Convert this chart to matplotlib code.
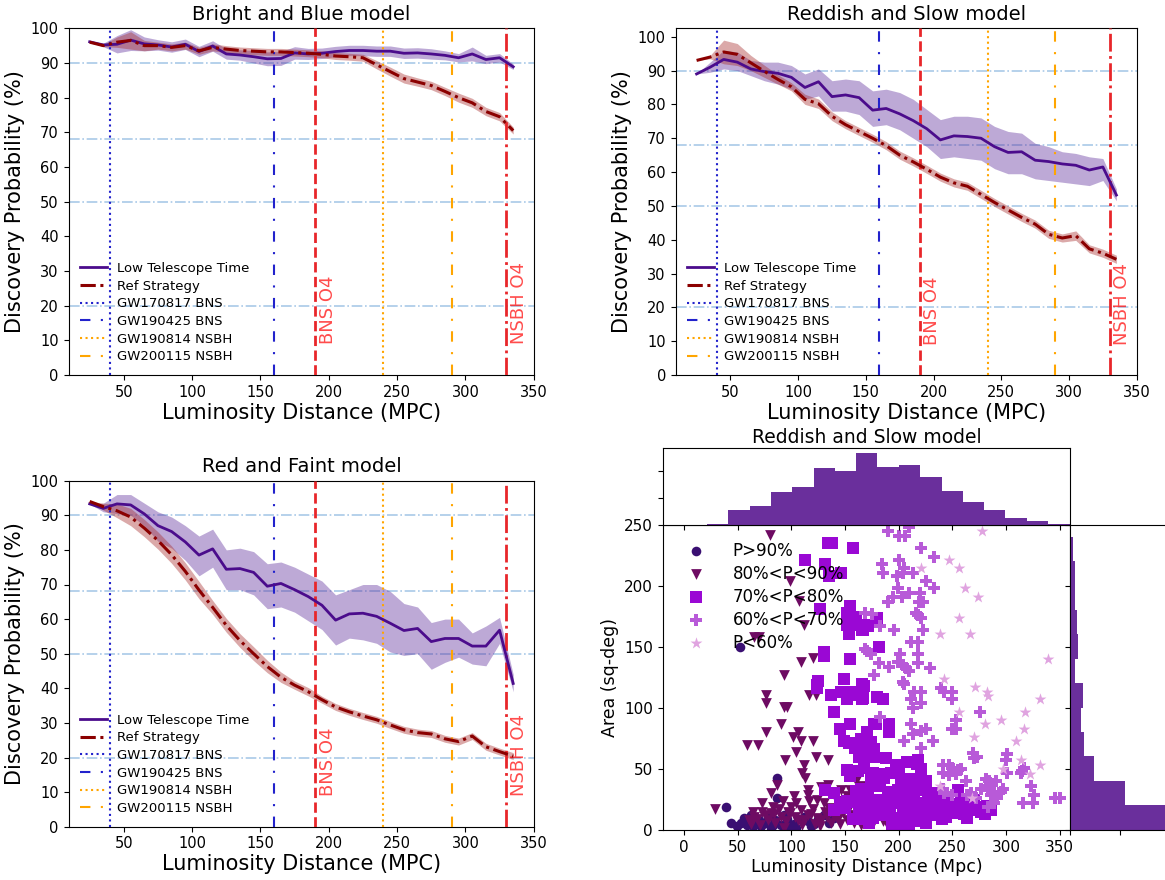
import matplotlib
matplotlib.use("Agg")
import matplotlib.pyplot as plt

# ---------------------------------------------------------------- data
dist = [25, 35, 45, 55, 65, 75, 85, 95, 105, 115, 125, 135, 145, 155, 165, 175,
        185, 195, 205, 215, 225, 235, 245, 255, 265, 275, 285, 295, 305, 315, 325, 335]

# Bright and Blue
bb_low = [96.1, 95.2, 95.4, 96.6, 95.5, 95.2, 94.6, 95.4, 93.3, 94.9, 92.6, 92.3, 91.8, 91.2, 91.3, 92.9,
          92.6, 92.8, 93.3, 93.6, 93.6, 93.4, 93.4, 92.8, 92.9, 92.6, 92.2, 91.5, 92.6, 91.0, 91.5, 88.9]
bb_low_lo = [96.1, 94.7, 92.9, 93.6, 93.5, 93.7, 93.1, 93.9, 91.8, 93.4, 91.1, 90.8, 90.0, 89.2, 89.3, 91.1,
             91.0, 91.3, 91.8, 92.1, 92.1, 91.9, 91.9, 91.3, 91.4, 91.1, 90.9, 90.3, 90.6, 89.8, 90.3, 88.1]
bb_low_hi = [96.1, 95.7, 97.9, 99.6, 97.5, 96.7, 96.1, 96.9, 94.8, 96.4, 94.1, 93.8, 93.6, 93.2, 93.3, 94.7,
             94.2, 94.3, 94.8, 95.1, 95.1, 94.9, 94.9, 94.3, 94.4, 94.1, 93.5, 92.7, 94.6, 92.2, 92.7, 89.7]
bb_ref = [96.0, 95.0, 96.0, 96.5, 95.0, 95.0, 94.5, 95.0, 93.5, 94.5, 94.0, 93.6, 93.4, 93.2, 93.2, 93.0,
          92.8, 92.5, 92.0, 91.8, 91.5, 89.5, 87.5, 85.5, 84.5, 83.5, 81.8, 80.0, 78.5, 76.0, 74.5, 70.5]
bb_ref_lo = [96.0, 94.7, 94.5, 94.0, 93.5, 94.0, 93.5, 94.0, 92.5, 93.5, 93.0, 92.6, 92.4, 92.2, 92.2, 92.0,
             91.8, 91.5, 91.0, 90.8, 90.5, 88.3, 86.2, 84.2, 83.3, 82.3, 80.6, 78.7, 77.2, 74.8, 73.3, 69.5]
bb_ref_hi = [96.0, 95.3, 97.5, 99.0, 96.5, 96.0, 95.5, 96.0, 94.5, 95.5, 95.0, 94.6, 94.4, 94.2, 94.2, 94.0,
             93.8, 93.5, 93.0, 92.8, 92.5, 90.7, 88.8, 86.8, 85.7, 84.7, 83.0, 81.3, 79.8, 77.2, 75.7, 71.5]

# Reddish and Slow
rs_low = [89.0, 91.0, 93.3, 92.5, 90.5, 89.7, 89.2, 88.0, 85.0, 86.7, 82.3, 82.8, 82.0, 78.3, 78.8, 77.2,
          75.2, 72.8, 69.5, 70.7, 70.5, 70.0, 67.5, 65.8, 66.0, 63.5, 63.1, 62.4, 62.0, 60.6, 61.5, 53.2]
rs_low_lo = [89.0, 89.5, 90.5, 90.0, 88.5, 87.0, 86.0, 84.5, 81.5, 82.5, 78.0, 78.0, 77.0, 73.5, 74.0, 72.5,
             70.0, 67.5, 64.0, 64.5, 64.0, 63.5, 61.0, 59.5, 59.5, 58.0, 57.5, 57.0, 56.5, 56.0, 57.5, 51.5]
rs_low_hi = [89.0, 92.5, 96.0, 95.5, 93.0, 92.5, 92.5, 91.5, 89.0, 90.5, 87.0, 87.5, 87.0, 84.0, 84.5, 83.5,
             81.5, 78.5, 75.5, 76.5, 76.5, 76.0, 73.5, 72.0, 71.5, 68.5, 67.5, 66.0, 65.5, 64.5, 64.0, 55.0]
rs_ref = [93.0, 94.0, 95.5, 94.8, 92.3, 89.8, 87.4, 85.2, 81.5, 80.2, 76.5, 74.0, 72.0, 70.0, 67.8, 65.0,
          63.0, 60.8, 58.5, 56.8, 55.8, 53.4, 51.0, 48.8, 46.6, 44.6, 41.6, 40.5, 41.2, 37.3, 36.0, 34.2]
rs_ref_lo = [93.0, 93.5, 92.0, 91.5, 90.0, 88.0, 86.0, 84.0, 80.0, 78.8, 75.2, 72.8, 70.8, 68.8, 66.6, 63.8,
             61.8, 59.6, 57.3, 55.6, 54.6, 52.2, 49.8, 47.6, 45.4, 43.4, 40.4, 39.3, 39.8, 36.1, 34.8, 33.0]
rs_ref_hi = [93.0, 94.5, 99.0, 98.0, 94.5, 91.6, 88.8, 86.4, 83.0, 81.6, 77.8, 75.2, 73.2, 71.2, 69.0, 66.2,
             64.2, 62.0, 59.7, 58.0, 57.0, 54.6, 52.2, 50.0, 47.8, 45.8, 42.8, 41.7, 42.6, 38.5, 37.2, 35.4]

# Red and Faint
rf_low = [93.3, 92.0, 93.3, 93.0, 90.4, 87.0, 85.3, 82.3, 78.5, 80.3, 74.4, 74.6, 73.5, 69.5, 70.3, 68.5,
          66.5, 64.0, 59.7, 61.5, 61.7, 60.8, 58.8, 56.7, 57.3, 53.5, 54.4, 54.4, 52.2, 52.2, 56.8, 41.4]
rf_low_lo = [93.3, 91.0, 90.5, 90.0, 87.0, 82.5, 80.5, 77.0, 72.5, 75.0, 68.5, 68.5, 67.0, 63.0, 63.5, 62.0,
             59.5, 57.0, 52.5, 54.5, 54.0, 53.0, 50.5, 49.5, 50.0, 45.5, 47.5, 49.0, 47.0, 46.5, 53.0, 39.0]
rf_low_hi = [93.3, 93.5, 96.0, 96.0, 93.5, 91.0, 89.5, 87.0, 84.0, 86.0, 80.0, 80.5, 79.5, 76.0, 76.5, 75.0,
             73.0, 71.0, 67.0, 68.5, 70.0, 70.0, 68.0, 64.5, 63.5, 59.0, 60.0, 60.0, 56.0, 58.0, 60.5, 44.0]
rf_ref = [94.0, 92.5, 91.3, 89.5, 86.3, 82.7, 78.6, 73.8, 68.4, 63.4, 58.2, 53.8, 50.0, 46.3, 43.2, 40.9,
          39.0, 36.7, 34.6, 33.2, 32.0, 30.9, 29.4, 28.0, 27.2, 26.8, 25.4, 24.6, 26.2, 23.1, 21.7, 20.4]
rf_ref_lo = [94.0, 91.5, 89.3, 87.0, 83.8, 80.2, 76.1, 71.3, 65.9, 61.4, 56.2, 51.8, 48.0, 44.5, 41.7, 39.7,
             37.8, 35.7, 33.6, 32.2, 31.0, 29.9, 28.4, 27.0, 26.2, 25.8, 24.4, 23.6, 25.2, 22.1, 20.7, 19.4]
rf_ref_hi = [94.0, 93.5, 93.3, 92.0, 88.8, 85.2, 81.1, 76.3, 70.9, 65.4, 60.2, 55.8, 52.0, 48.1, 44.7, 42.1,
             40.2, 37.7, 35.6, 34.2, 33.0, 31.9, 30.4, 29.0, 28.2, 27.8, 26.4, 25.6, 27.2, 24.1, 22.7, 21.4]

hlines = [90, 68, 50, 20]
gw_events = [("GW170817 BNS", 40), ("GW190425 BNS", 160),
             ("GW190814 NSBH", 240), ("GW200115 NSBH", 290)]
o4_lines = [("BNS O4", 190), ("NSBH O4", 330)]

# scatter: (distance, area) per discovery-probability class
p90 = [[52, 150], [87, 43], [87, 26], [39, 19], [44, 6], [49, 3], [56, 10], [62, 12], [59, 4], [68, 5],
       [72, 3], [78, 11], [62, 7], [85, 8], [93, 12], [90, 4], [102, 5], [112, 11], [104, 2], [121, 5],
       [130, 12], [96, 9], [75, 6], [81, 2], [66, 10], [115, 7], [108, 9], [125, 9], [135, 6], [140, 10],
       [53, 6], [58, 8], [64, 3], [70, 8], [83, 4], [98, 3], [118, 3]]
p80 = [[80, 242], [99, 204], [107, 188], [112, 168], [65, 158], [70, 158], [109, 138], [120, 141], [93, 127],
       [76, 111], [76, 104], [116, 111], [123, 111], [93, 101], [96, 101], [90, 87], [76, 80], [59, 70],
       [69, 70], [106, 80], [101, 76], [109, 73], [120, 73], [104, 64], [94, 57], [112, 53], [110, 47],
       [113, 43], [123, 60], [134, 57], [87, 37], [81, 30], [73, 22], [83, 19], [29, 17], [115, 33],
       [115, 29], [134, 37], [146, 33], [155, 33], [165, 36], [104, 22], [124, 25], [140, 29],
       [65, 11], [81, 14], [90, 11], [99, 14], [106, 8], [115, 12], [124, 10], [131, 15], [140, 11],
       [148, 14], [152, 8], [162, 15], [171, 11], [177, 14], [165, 4], [127, 3], [93, 2], [71, 4], [85, 6],
       [110, 4], [145, 5], [158, 12], [185, 7], [190, 3], [135, 18], [120, 17], [100, 19], [155, 20],
       [170, 20], [180, 24], [60, 8], [75, 12], [177, 7],
       [62, 5], [68, 9], [73, 15], [78, 8], [84, 13], [88, 17], [95, 7], [97, 15], [103, 11], [109, 16],
       [112, 8], [118, 13], [122, 5], [128, 8], [133, 11], [137, 6], [143, 9], [150, 17], [158, 6],
       [161, 19], [168, 15], [173, 25], [182, 17], [130, 22], [116, 24], [146, 24], [92, 24], [64, 15],
       [102, 28], [128, 35], [152, 28], [160, 40]]
p70 = [[134, 235], [138, 235], [157, 231], [113, 221], [131, 218], [146, 211], [135, 208], [155, 184],
       [127, 181], [152, 178], [160, 175], [152, 168], [158, 168], [169, 168], [154, 161], [166, 164],
       [130, 146], [130, 143], [155, 140], [125, 122], [149, 124], [166, 120], [180, 174], [171, 167],
       [167, 164], [182, 150], [124, 119], [124, 116], [137, 111], [146, 113], [155, 113], [162, 111],
       [168, 118], [152, 107], [166, 107], [180, 109], [167, 108], [185, 107], [140, 97], [155, 87],
       [177, 87], [145, 83], [170, 80], [191, 87], [191, 80], [179, 87], [149, 73], [154, 71], [159, 67],
       [165, 66], [171, 67], [177, 66], [174, 72], [165, 75], [163, 60], [168, 56], [152, 49], [155, 44],
       [162, 48], [174, 44], [166, 60], [168, 51], [177, 60], [188, 59], [197, 53], [200, 52], [218, 57],
       [221, 50], [176, 47], [183, 46], [186, 44], [210, 42], [216, 41], [225, 40], [208, 33], [221, 33],
       [255, 33], [171, 33], [182, 36], [193, 31], [199, 29], [131, 33], [140, 30], [165, 34],
       [227, 26], [238, 26], [246, 25], [258, 23], [267, 19], [275, 19], [286, 16], [264, 10], [170, 20],
       [180, 23], [192, 18], [203, 22], [212, 17], [222, 15], [232, 19], [243, 17], [252, 14], [261, 13],
       [200, 10], [215, 7], [225, 12], [240, 9], [190, 12], [178, 15], [163, 17], [157, 9], [172, 6],
       [185, 24], [196, 27], [209, 25], [218, 22], [230, 30], [248, 21], [200, 4], [160, 26], [152, 24],
       [235, 12], [280, 13], [270, 25],
       [183, 37], [190, 30], [199, 33], [205, 25], [183, 25], [177, 19], [189, 16], [199, 22], [208, 25],
       [214, 25], [224, 22], [233, 26], [236, 19], [246, 23], [252, 17], [258, 21], [270, 16], [277, 15],
       [196, 10], [208, 11], [221, 12], [236, 12], [252, 15], [264, 10], [160, 32], [171, 28], [174, 39],
       [186, 43], [193, 47], [208, 56], [217, 54], [221, 47], [198, 49], [202, 40], [214, 31], [227, 29],
       [240, 28], [262, 18], [282, 20], [228, 16], [244, 11], [204, 15], [215, 18], [186, 12], [176, 10],
       [168, 12], [161, 9], [194, 5], [210, 5], [225, 6], [150, 18], [158, 23], [166, 25], [145, 22],
       [140, 16]]
p60 = [[170, 147], [175, 177], [190, 245], [200, 241], [206, 241], [210, 248], [221, 231], [233, 224],
       [184, 218], [185, 211], [200, 221], [205, 215], [204, 211], [198, 208], [213, 211], [225, 204],
       [233, 198], [199, 198], [195, 191], [203, 191], [210, 194], [220, 194], [190, 187], [219, 187],
       [223, 187], [169, 178], [183, 167], [196, 164], [216, 178], [218, 176], [221, 174], [223, 164],
       [211, 154], [218, 154], [169, 148], [174, 144], [201, 144], [218, 144], [182, 137], [191, 134],
       [199, 138], [204, 135], [207, 133], [210, 130], [218, 137], [229, 133], [177, 127], [204, 121],
       [205, 120], [214, 113], [221, 113], [211, 107], [221, 104], [213, 100], [239, 116], [242, 113],
       [250, 113], [250, 107], [183, 93], [211, 87], [213, 79], [221, 81], [225, 83], [205, 73], [232, 73],
       [221, 67], [253, 90], [253, 83], [250, 83], [276, 97], [269, 63], [270, 59], [273, 60], [241, 53],
       [247, 53], [250, 51], [255, 49], [258, 50], [241, 47], [247, 45], [253, 46], [263, 40], [267, 30],
       [272, 26], [281, 42], [284, 40], [287, 38], [291, 40], [281, 36], [277, 34], [283, 33], [289, 31],
       [286, 29], [295, 31], [292, 26], [289, 22], [301, 62], [300, 57], [301, 47], [314, 47], [317, 51],
       [315, 48], [297, 34], [323, 36], [326, 29], [325, 22], [316, 22], [346, 26], [350, 26], [283, 19],
       [241, 34], [242, 30], [250, 29], [264, 29]]
p_lt60 = [[278, 245], [247, 221], [256, 215], [221, 215], [262, 198], [274, 191], [256, 174], [238, 161],
          [266, 161], [339, 140], [242, 124], [271, 117], [282, 113], [283, 110], [256, 97], [280, 87],
          [295, 90], [317, 83], [318, 97], [332, 107], [270, 76], [309, 73], [314, 57], [332, 53],
          [297, 50], [322, 46], [238, 36], [268, 26]]

# marginal histograms (counts per bin)
dist_edges = [21.2, 41.1, 61.0, 80.8, 100.7, 120.6, 140.5, 160.4, 180.2, 200.1, 220.0, 239.9,
              259.8, 279.6, 299.5, 319.4, 339.3, 359.2]
dist_counts = [1, 11, 14, 24, 28, 42, 40, 53, 43, 44, 35, 25, 17, 11, 5, 3, 1]
area_edges = [0.4, 20.4, 40.4, 60.4, 80.4, 100.4, 120.4, 140.4, 160.4, 180.4, 200.4, 220.4, 240.4]
area_counts = [170, 55, 24, 14, 11, 13, 5, 8, 7, 5, 5, 3]

# ---------------------------------------------------------------- style
LOW_C = "#4b0c8c"
LOW_FILL = "#5b2a9a"
REF_C = "#8b0000"
REF_FILL = "#a52a2a"
REF_LS = (0, (5, 1.5, 1, 1.5))
HL_C = "#a9c9e8"
GW_STYLES = [("#2222cc", ":"), ("#2222cc", (0, (5, 5, 1, 5))),
             ("orange", ":"), ("orange", (0, (5, 5, 1, 5)))]
O4_STYLES = ["--", "-."]
O4_C = "#e8262a"

W, H = 1165, 880


def rect(l, t, r, b):
    return [l / W, 1 - b / H, (r - l) / W, (b - t) / H]


def prob_panel(ax, title, low, low_lo, low_hi, ref, ref_lo, ref_hi, ytop):
    for y in hlines:
        ax.axhline(y, color=HL_C, ls="-.", lw=1.2, zorder=1)
    ax.fill_between(dist, low_lo, low_hi, color=LOW_FILL, alpha=0.4, lw=0, zorder=2)
    ax.fill_between(dist, ref_lo, ref_hi, color=REF_FILL, alpha=0.4, lw=0, zorder=2)
    ax.plot(dist, low, color=LOW_C, lw=2, label="Low Telescope Time", zorder=4)
    ax.plot(dist, ref, color=REF_C, lw=2.2, ls=REF_LS, label="Ref Strategy", zorder=4)
    for (name, x), (c, ls) in zip(gw_events, GW_STYLES):
        ax.axvline(x, color=c, ls=ls, lw=1.5, label=name, zorder=3)
    for (name, x), ls in zip(o4_lines, O4_STYLES):
        ax.axvline(x, color=O4_C, ls=ls, lw=2, zorder=3)
        ax.text(x + 2.5, 9, name, rotation=90, color="red", alpha=0.7,
                fontsize=13, ha="left", va="bottom")
    ax.set_xlim(9.5, 350.5)
    ax.set_ylim(0, ytop)
    ax.set_xticks([50, 100, 150, 200, 250, 300, 350])
    ax.set_yticks(range(0, 101, 10))
    ax.tick_params(labelsize=10.5)
    ax.set_title(title, fontsize=14)
    ax.set_xlabel("Luminosity Distance (MPC)", fontsize=15, labelpad=2)
    ax.set_ylabel("Discovery Probability (%)", fontsize=15)
    ax.legend(loc="lower left", frameon=False, fontsize=9.5, labelspacing=0.35)


fig = plt.figure(figsize=(W / 100, H / 100), dpi=100)

ax_bb = fig.add_axes(rect(68.5, 28.3, 534.4, 375))
prob_panel(ax_bb, "Bright and Blue model", bb_low, bb_low_lo, bb_low_hi,
           bb_ref, bb_ref_lo, bb_ref_hi, 100)
ax_rs = fig.add_axes(rect(675.6, 28.3, 1137.4, 375))
prob_panel(ax_rs, "Reddish and Slow model", rs_low, rs_low_lo, rs_low_hi,
           rs_ref, rs_ref_lo, rs_ref_hi, 102.5)
ax_rf = fig.add_axes(rect(68.5, 480.7, 534.4, 826.7))
prob_panel(ax_rf, "Red and Faint model", rf_low, rf_low_lo, rf_low_hi,
           rf_ref, rf_ref_lo, rf_ref_hi, 100)

# scatter with marginal histograms
ax_sc = fig.add_axes(rect(662.7, 525, 1070.4, 830))
ax_top = fig.add_axes(rect(662.7, 448.3, 1070.4, 525), sharex=ax_sc)
ax_right = fig.add_axes(rect(1070.4, 525, 1270, 830), sharey=ax_sc)

classes = [(p90, "o", "#3a0f72", 48, "P>90%"),
           (p80, "v", "#6e0b63", 60, "80%<P<90%"),
           (p70, "s", "#9a08d4", 72, "70%<P<80%"),
           (p60, "P", "#b85ad8", 75, "60%<P<70%"),
           (p_lt60, "*", "#e0a4e0", 80, "P<60%")]
for pts, mk, c, s, lab in classes:
    ax_sc.scatter([p[0] for p in pts], [p[1] for p in pts], marker=mk, color=c,
                  s=s, linewidths=0, label=lab)
ax_sc.set_xlim(-20, 360)
ax_sc.set_ylim(0, 250)
ax_sc.set_xticks([0, 50, 100, 150, 200, 250, 300, 350])
ax_sc.set_yticks([0, 50, 100, 150, 200, 250])
ax_sc.tick_params(labelsize=11)
ax_sc.set_xlabel("Luminosity Distance (Mpc)", fontsize=12.5, labelpad=2)
ax_sc.set_ylabel("Area (sq-deg)", fontsize=12.5)
ax_sc.legend(loc="upper left", frameon=False, fontsize=12, labelspacing=0.3,
             scatterpoints=1, handletextpad=1.2, borderaxespad=0.6)

HIST_C = "#6a2f9c"
ax_top.stairs(dist_counts, dist_edges, fill=True, color=HIST_C)
ax_top.set_ylim(0, 56.5)
ax_top.set_yticks([20, 40])
ax_top.tick_params(labelbottom=False, labelleft=False)
ax_top.set_title("Reddish and Slow model", fontsize=13.5, pad=4)

ax_right.stairs(area_counts, area_edges, fill=True, color=HIST_C, orientation="horizontal")
ax_right.set_xlim(0, 202)
ax_right.set_xticks([0, 50, 100, 150, 200])
ax_right.tick_params(labelbottom=False, labelleft=False)

fig.savefig("out.png", dpi=100)
